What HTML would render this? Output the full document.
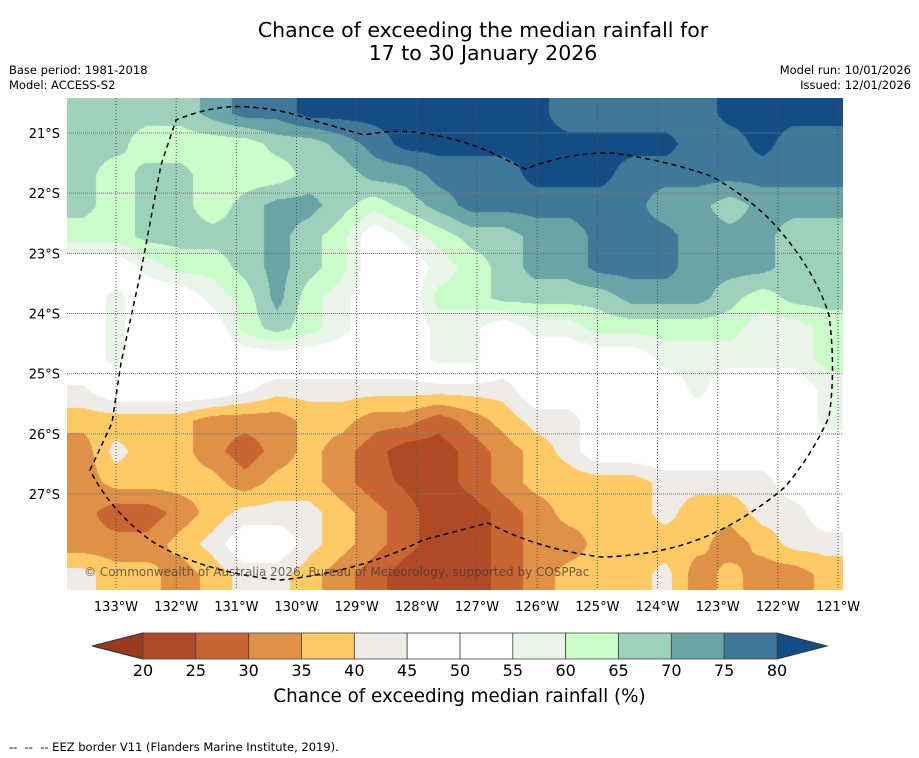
<!DOCTYPE html>
<html><head><meta charset="utf-8"><style>
body{margin:0;width:919px;height:758px;background:#fff;position:relative;font-family:"DejaVu Sans","Liberation Sans",sans-serif;overflow:hidden}
.t{position:absolute;white-space:pre;color:#000}
</style></head><body>
<div class="t" style="left:0;width:966px;text-align:center;top:19px;font-size:20.5px;line-height:23px">Chance of exceeding the median rainfall for
17 to 30 January 2026</div>
<div class="t" style="left:9px;top:63px;font-size:11.5px;line-height:15px">Base period: 1981-2018
Model: ACCESS-S2</div>
<div class="t" style="right:8px;top:63px;font-size:11.5px;line-height:15px;text-align:right">Model run: 10/01/2026
Issued: 12/01/2026</div>
<canvas id="map" width="776" height="492" style="position:absolute;left:67px;top:98px"></canvas>
<svg id="ov" width="919" height="758" style="position:absolute;left:0;top:0"></svg>
<div class="t" style="left:84px;top:565px;font-size:12px;color:rgba(60,60,60,0.75)">© Commonwealth of Australia 2026, Bureau of Meteorology, supported by COSPPac</div>
<div class="t" style="left:0;width:919px;text-align:center;top:686px;font-size:18.3px">Chance of exceeding median rainfall (%)</div>
<div class="t" style="left:9px;top:740px;font-size:11.5px">--  --  -- EEZ border V11 (Flanders Marine Institute, 2019).</div>
<script>
const lonTicks=[133,132,131,130,129,128,127,126,125,124,123,122,121];
const latTicks=[21,22,23,24,25,26,27];
const levels=[20,25,30,35,40,45,50,55,60,65,70,75,80];
const colors=["#983a20","#b04a26","#c96532","#de9147","#fdca66","#efebe7","#ffffff","#ffffff","#eaf5ea","#cbfdcb","#9ed1bb","#6aa4a6","#3f7898","#144d86"];
// grid: 16 rows (north->south) x 24 cols (west->east), values in %
const row0=[67,67,67,67,72,77,77,82,82,82,82,82,82,82,82,77,77,77,77,77,82,82,82,82];
const row1=[67,67,62,62,62,62,67,67,72,77,82,82,82,82,82,82,82,82,82,77,77,82,77,77];
const row2=[67,62,67,67,62,62,62,67,67,72,72,77,77,77,82,82,82,77,77,77,77,77,77,77];
const row3=[67,62,67,67,62,67,72,72,67,62,67,72,77,77,77,77,77,77,72,72,67,72,72,72];
const row4=[62,62,67,67,67,67,72,67,62,50,57,62,67,67,72,72,77,77,77,72,72,72,67,67];
const row5=[50,50,57,62,62,67,72,67,62,50,50,57,62,67,72,72,77,77,77,72,72,72,67,67];
const row6=[50,57,50,50,57,62,72,62,57,50,50,62,62,67,67,67,67,72,72,72,67,62,67,67];
const row7=[50,57,50,50,50,62,67,62,57,50,50,57,57,50,57,57,62,62,62,62,62,57,57,62];
const row8=[50,57,50,50,50,50,50,50,50,50,50,57,57,50,50,50,50,50,57,57,57,57,57,62];
const row9=[44,50,50,50,50,46,42,42,42,42,42,42,42,42,50,50,50,50,50,57,50,50,50,57];
const row10=[37,37,37,37,32,32,32,37,37,32,32,27,32,37,42,42,50,50,50,50,50,50,50,57];
const row11=[32,42,37,37,32,27,32,37,32,27,22,22,27,32,37,42,50,50,50,50,50,50,50,50];
const row12=[32,37,37,37,37,32,37,37,32,27,24,22,27,32,37,37,37,37,42,42,42,42,50,50];
const row13=[32,27,27,32,37,42,42,42,37,32,27,22,22,27,32,37,37,37,42,37,37,42,42,50];
const row14=[32,32,32,37,42,50,50,42,37,32,27,22,22,27,32,32,37,37,37,37,32,37,42,42];
const row15=[42,37,37,32,37,42,42,37,32,27,22,22,22,27,32,37,37,37,42,32,37,32,32,37];
const grid=[row0,row1,row2,row3,row4,row5,row6,row7,row8,row9,row10,row11,row12,row13,row14,row15];

const xOf=lon=>116+(133-lon)*60.17;
const yOf=lat=>133+(lat-21)*60.17;
const MX=67,MY=98,MW=776,MH=492;
function colorFor(v){let i=0;while(i<levels.length&&v>=levels[i])i++;return colors[i];}
function hex(c){return [parseInt(c.substr(1,2),16),parseInt(c.substr(3,2),16),parseInt(c.substr(5,2),16)];}
(function(){
 const cv=document.getElementById('map'),ctx=cv.getContext('2d');
 const R=grid.length,C=grid[0].length,cw=MW/C,ch=MH/R;
 const img=ctx.createImageData(MW,MH);
 for(let py=0;py<MH;py++){
  let gy=Math.min(Math.max((py+0.5)/ch-0.5,0),R-1);let y0=Math.floor(gy),y1=Math.min(y0+1,R-1),fy=gy-y0;
  for(let px=0;px<MW;px++){
   let gx=Math.min(Math.max((px+0.5)/cw-0.5,0),C-1);let x0=Math.floor(gx),x1=Math.min(x0+1,C-1),fx=gx-x0;
   const v=(grid[y0][x0]*(1-fx)+grid[y0][x1]*fx)*(1-fy)+(grid[y1][x0]*(1-fx)+grid[y1][x1]*fx)*fy;
   const rgb=hex(colorFor(v));const k=(py*MW+px)*4;
   img.data[k]=rgb[0];img.data[k+1]=rgb[1];img.data[k+2]=rgb[2];img.data[k+3]=255;
  }
 }
 ctx.putImageData(img,0,0);
})();
const NS='http://www.w3.org/2000/svg';
const ov=document.getElementById('ov');
function mk(tag,attrs){const e=document.createElementNS(NS,tag);for(const k in attrs)e.setAttribute(k,attrs[k]);ov.appendChild(e);return e;}
lonTicks.forEach(l=>{
 const x=xOf(l);
 if(x>MX&&x<MX+MW){const ln=mk('line',{x1:x,y1:MY,x2:x,y2:MY+MH,stroke:'#555','stroke-width':1,'stroke-dasharray':'1,2'});
 
 }
 const t=mk('text',{x:x,y:611,'font-size':13,'text-anchor':'middle','font-family':'DejaVu Sans, sans-serif'});
 t.textContent=l+'°W';
 
 
});
latTicks.forEach(l=>{
 const y=yOf(l);
 const ln=mk('line',{x1:MX,y1:y,x2:MX+MW,y2:y,stroke:'#777','stroke-width':1,'stroke-dasharray':'1,1'});
 
 
 const t=mk('text',{x:60,y:y+5,'font-size':13,'text-anchor':'end','font-family':'DejaVu Sans, sans-serif'});
 t.textContent=l+'°S';
 
 
});
const eez=mk('path',{d:'M90,470 L112,423 L121,363 L141,271 L161,165 L176,120 Q215,104 250,107 Q285,110 305,118 L364,135 Q390,130 414,132 Q455,137 488,151 L525,169 Q570,152 612,153 Q665,160 711,176 Q750,198 775,225 Q815,270 829,315 Q836,370 829,417 Q812,455 785,487 Q770,500 750,513 Q712,538 671,548 Q640,556 602,557 Q540,550 488,523 L423,540 Q360,572 280,580 Q200,572 150,540 Q110,510 90,470 Z',fill:'none',stroke:'#000','stroke-width':1.5,'stroke-dasharray':'5,4'});


const cbX=143,cbW=634,cbY=633,cbH=26,n=levels.length-1,bw=cbW/n;
const la=mk('polygon',{points:`${cbX},${cbY} ${cbX},${cbY+cbH} 92,${cbY+cbH/2}`,fill:colors[0],stroke:'#333','stroke-width':1});


const ra=mk('polygon',{points:`${cbX+cbW},${cbY} ${cbX+cbW},${cbY+cbH} 827,${cbY+cbH/2}`,fill:colors[colors.length-1],stroke:'#333','stroke-width':1});


for(let i=0;i<n;i++){
 const r=mk('rect',{x:cbX+i*bw,y:cbY,width:bw,height:cbH,fill:colors[i+1],stroke:'#444','stroke-width':0.8});
 
 
}
levels.forEach((lv,i)=>{
 const t=mk('text',{x:cbX+i*bw,y:676,'font-size':16,'text-anchor':'middle','font-family':'DejaVu Sans, sans-serif'});
 t.textContent=lv;
 
 
});
</script>
</body></html>
